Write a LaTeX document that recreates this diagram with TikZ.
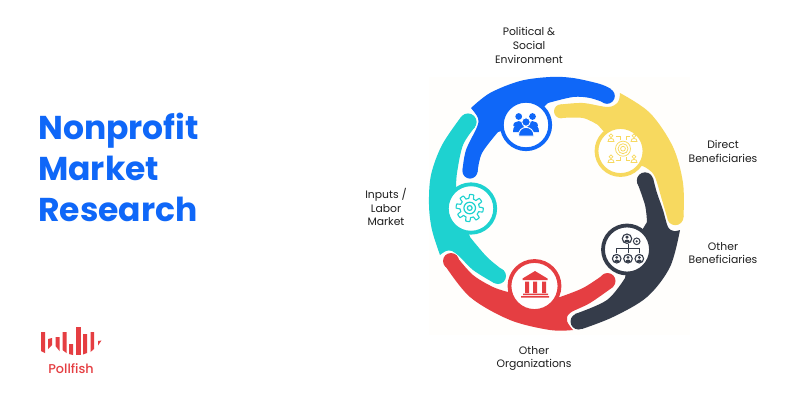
\documentclass[tikz,border=0pt]{standalone}
\usepackage{fontspec}
\setmainfont{Poppins}
\newfontfamily\titlefont{Poppins}[UprightFont={* Bold}]
\newfontfamily\logofont{Poppins}[UprightFont={* Medium}]
\definecolor{cblue}{HTML}{0F67F8}
\definecolor{cyel}{HTML}{F7D95F}
\definecolor{cdark}{HTML}{353C4A}
\definecolor{cred}{HTML}{E53E42}
\definecolor{cteal}{HTML}{1ED2D0}
\definecolor{ctext}{HTML}{1E1E1E}
\tikzset{
  headline/.style={anchor=base west,inner sep=0pt,text=cblue,font=\titlefont\fontsize{33}{33}\selectfont},
  caption/.style={align=center,inner sep=0pt,text=ctext,font=\fontsize{10.8}{13.6}\selectfont},
  badge/.style={fill=white,line width=3.8pt},
  smoothpart/.style={smooth,tension=.55},
}
\newcommand{\pawn}[4]{% x,y,scale,colour (filled)
  \fill[#4] (#1,#2-2.6*#3) circle (2.5*#3);
  \fill[#4] (#1-4*#3,#2+4.6*#3) .. controls (#1-4.6*#3,#2-0.4*#3) and (#1+4.6*#3,#2-0.4*#3) .. (#1+4*#3,#2+4.6*#3) -- cycle;
}
\begin{document}
\begin{tikzpicture}[x=1pt,y=-1pt]
\useasboundingbox (0,0) rectangle (800,400);
\fill[white] (0,0) rectangle (800,400);
\fill[white!99!orange] (429,77) rectangle (690,335);

% --- ring segments ---
% teal
\fill[cteal] plot[smoothpart] coordinates {(440,255) (432,230) (429,205) (431,175) (442,145) (461,117)}
  -- (475,127)
  -- plot[smoothpart] coordinates {(475,127) (463,145) (457,173) (456,190)}
  -- (470,237)
  -- plot[smoothpart] coordinates {(470,237) (487,257) (504,271)}
  -- (494,283)
  -- plot[smoothpart] coordinates {(494,283) (473,270) (460,257) (452,251) (446,251) (440,255)} -- cycle;
\fill[cteal] (468,122) circle (8.6) (498,276) circle (8);
% red
\fill[cred] plot[smoothpart] coordinates {(573,330) (550,330) (510,320) (470,297) (444,264)}
  -- (457,257)
  -- plot[smoothpart] coordinates {(457,257) (473,275) (493,287) (508,292)}
  -- (540,300) -- (560,297)
  -- plot[smoothpart] coordinates {(560,297) (583,288) (603,275)}
  -- (613,287)
  -- plot[smoothpart] coordinates {(613,287) (590,303) (570,313) (567,321) (573,330)} -- cycle;
\fill[cred] (451,261) circle (8) (607.5,281) circle (8);
% dark
\fill[cdark] plot[smoothpart] coordinates {(680,230) (670,267) (647,297) (613,317) (582,329)}
  -- (575,314)
  -- plot[smoothpart] coordinates {(575,314) (607,300) (625,278)}
  -- (630,250)
  -- plot[smoothpart] coordinates {(647,222) (645,205) (637,182)}
  -- (653,178)
  -- plot[smoothpart] coordinates {(653,178) (657,193) (663,210) (668,227) (674,231) (680,230)} -- cycle;
\fill[cdark] (645,180.5) circle (8.2) (578.5,321.5) circle (8);
% yellow
\fill[cyel] plot[smoothpart] coordinates {(620,93) (650,113) (673,147) (683,183) (683.5,217)}
  -- (667,217)
  -- plot[smoothpart] coordinates {(667,217) (662,200) (655,177) (648,169) (640,165)}
  -- (620,150)
  -- plot[smoothpart] coordinates {(598,125) (583,118) (561,118)}
  -- (561,104.5)
  -- plot[smoothpart] coordinates {(561,104.5) (583,103) (608,107) (618,102) (620,93)} -- cycle;
\fill[cyel] (561,111.3) circle (7) (675.3,217) circle (8.2);
% blue
\fill[cblue] plot[smoothpart] coordinates {(471,108) (490,93) (520,81) (550,77) (573,78) (600,84) (611,89)}
  -- (605,103)
  -- plot[smoothpart] coordinates {(605,103) (590,98) (573,97) (548,103)}
  -- (526,124) -- (498,132)
  -- plot[smoothpart] coordinates {(498,132) (482,153) (477.5,172)}
  -- (462.5,170)
  -- plot[smoothpart] coordinates {(462.5,170) (466,150) (477,127) (478,118) (471,108)} -- cycle;
\fill[cblue] (470,171) circle (7.6) (607,96) circle (7.8);

% --- badges ---
\draw[badge,draw=cblue] (526,125) circle (24.2);
\draw[badge,draw=cyel] (620.5,151) circle (24);
\draw[badge,draw=cdark] (627,249.5) circle (24);
\draw[badge,draw=cred] (534.5,286) circle (25);
\draw[badge,draw=cteal] (471,208.5) circle (24.2);

% people icon
\pawn{518.7}{120}{1.35}{cblue}
\fill[cblue] (513,132) .. controls (512.5,122) and (525,120) .. (525,132) -- cycle;
\pawn{532.5}{120}{1.35}{cblue}
\fill[cblue] (526,132) .. controls (526,120) and (539.5,122) .. (539,132) -- cycle;
\draw[white,line width=.9pt,fill=cblue] (526,122) circle (4.2);
\draw[white,line width=.9pt,fill=cblue] (518.5,136) .. controls (518,124.5) and (534,124.5) .. (534,136) -- cycle;

% gear icon
\draw[cteal,line width=1.1pt,line join=round] plot[domain=0:360,samples=145] ({469.7+(11.6+2*max(-1,min(1,3*sin(8*\x+22))))*cos(\x)},{208+(11.6+2*max(-1,min(1,3*sin(8*\x+22))))*sin(\x)}) -- cycle;
\draw[cteal,line width=1.2pt] (469.7,208) circle (5.8);
\draw[cteal,line width=1.2pt] (469.7,208) circle (2.4);

% bank icon
\fill[cred] (535,271) -- (547.5,278.5) -- (547.5,280) -- (522.5,280) -- (522.5,278.5) -- cycle;
\fill[cred] (525,281.5) rectangle (529,293) (533,281.5) rectangle (537,293) (542,281.5) rectangle (546,293);
\fill[cred] (523,293.5) rectangle (548,295) (521,296) rectangle (549,297.5);

% beneficiaries icon
\begin{scope}[cyel,line width=.75pt]
\draw (623,148.7) circle (7.5) circle (5) circle (2.4);
\foreach \sx/\sy in {611/138,634/138,611/159,634/159}{
  \draw (\sx,\sy-2.2) circle (1.9);
  \draw (\sx-3,\sy+3.5) .. controls (\sx-3.5,\sy-0.6) and (\sx+3.5,\sy-0.6) .. (\sx+3,\sy+3.5) -- cycle;
}
\draw (615.5,136) -- (620,136) -- (620,139.5);
\draw (630,136) -- (626,136) -- (626,139.5);
\draw (615.5,160) -- (620,160) -- (620,157);
\draw (630,160) -- (626,160) -- (626,157);
\end{scope}

% org chart icon
\begin{scope}[cdark]
\draw[line width=1.1pt] (627,238.7) circle (4.7);
\pawn{627}{239}{.7}{cdark}
\draw[line width=1pt,fill=white] (636.7,241.3) circle (3.3);
\fill (636.7,241.3) circle (1.2);
\draw[line width=.8pt] (628,244) -- (628,252.5) (616.7,252.5) -- (616.7,248) -- (639.3,248) -- (639.3,252.5);
\foreach \ox in {616.7,628,639.3}{
  \draw[line width=1.1pt] (\ox,258.7) circle (4.3);
  \pawn{\ox}{259}{.62}{cdark}
}
\end{scope}

% --- texts ---
\node[headline] (t1) at (38,139) {Nonprofit};
\node[headline] (t2) at (38,180) {Market};
\node[headline] (t3) at (38,221) {Research};
\node[caption] (pol) at (529,45.5) {Political \&\\Social\\Environment};
\node[caption] (dir) at (723,151.5) {Direct\\Beneficiaries};
\node[caption] (oth) at (723,253) {Other\\Beneficiaries};
\node[caption] (inp) at (386,207) {Inputs /\\Labor\\Market};
\node[caption] (org) at (534,358.5) {Other\\Organizations};

% --- logo ---
\fill[cred] (41,332) -- (45,332) -- (45,353) -- (41,351) -- cycle;
\fill[cred] (48,339) -- (52,338) -- (52,345) -- (48,349) -- cycle;
\fill[cred] (55.5,337) -- (59.5,337) -- (59.5,351) -- (55.5,346) -- cycle;
\fill[cred] (62.5,332) -- (66.5,332) -- (66.5,353) -- (62.5,350) -- cycle;
\fill[cred] (69,344) -- (73,344) -- (73,355) -- (69,354) -- cycle;
\fill[cred] (76,327) -- (80.5,327) -- (80.5,355) -- (76,355) -- cycle;
\fill[cred] (83,334) -- (87,334) -- (87,353) -- (83,354.5) -- cycle;
\fill[cred] (90.5,332) -- (94,332) -- (94,349) -- (90.5,352) -- cycle;
\fill[cred] (98,341) -- (101.5,340.5) -- (98,345.5) -- cycle;
\node[inner sep=0pt,text=cred,font=\logofont\fontsize{12.8}{12.8}\selectfont] (logo) at (71,369) {Pollfish};
\end{tikzpicture}
\end{document}
